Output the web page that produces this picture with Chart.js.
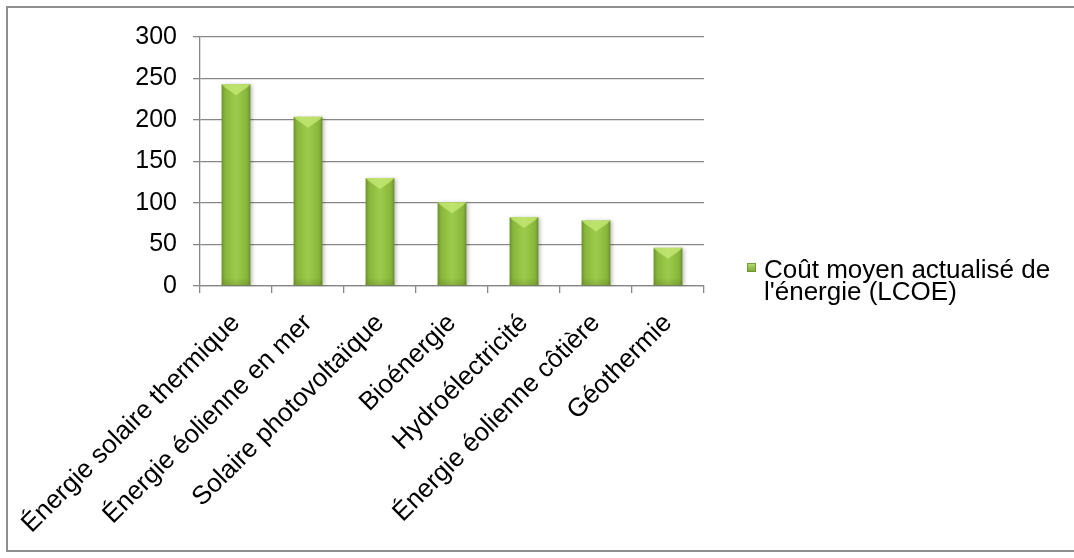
<!DOCTYPE html>
<html>
<head>
<meta charset="utf-8">
<script src="https://cdn.jsdelivr.net/npm/chart.js@4.4.1/dist/chart.umd.min.js"></script>
<style>
  html, body { margin: 0; padding: 0; background: #fff; }
  #wrap { position: relative; width: 1074px; height: 558px; overflow: hidden; }
  #frame { position: absolute; left: 6px; top: 6px; width: 1100px; height: 546px; border: 2px solid #8e8e8e; box-sizing: border-box; pointer-events: none; }
  canvas { position: absolute; left: 0; top: 0; }
</style>
</head>
<body>
<div id="wrap">
  <canvas id="c" width="1074" height="558"></canvas>
  <div id="frame"></div>
</div>
<script>
const categories = [
  "Énergie solaire thermique",
  "Énergie éolienne en mer",
  "Solaire photovoltaïque",
  "Bioénergie",
  "Hydroélectricité",
  "Énergie éolienne côtière",
  "Géothermie"
];
const lcoeValues = [243, 204, 130, 101, 83, 79, 46];
const seriesName = "Coût moyen actualisé de l'énergie (LCOE)";
const legendLines = ["Coût moyen actualisé de", "l'énergie (LCOE)"];
const yTicks = [0, 50, 100, 150, 200, 250, 300];

const FONT = "'Liberation Sans', Arial, sans-serif";
const GRID = '#878787';

const barStyle = {
  id: 'barStyle',
  beforeDatasetsDraw(chart) {
    const ctx = chart.ctx;
    const meta = chart.getDatasetMeta(0);
    meta.data.forEach(el => {
      const half = el.width / 2;
      const g = ctx.createLinearGradient(el.x - half, 0, el.x + half, 0);
      g.addColorStop(0, '#6a922c');
      g.addColorStop(0.12, '#88b63c');
      g.addColorStop(0.5, '#9dcc4c');
      g.addColorStop(0.88, '#88b63c');
      g.addColorStop(1, '#6a922c');
      el.options = Object.assign({}, el.options, { backgroundColor: g });
    });
    ctx.save();
    ctx.shadowColor = 'rgba(0,0,0,0.28)';
    ctx.shadowBlur = 4;
    ctx.shadowOffsetX = 2;
    ctx.shadowOffsetY = 1;
  },
  afterDatasetsDraw(chart) {
    const ctx = chart.ctx;
    ctx.restore();
    const meta = chart.getDatasetMeta(0);
    meta.data.forEach(el => {
      const half = el.width / 2;
      const l = el.x - half, r = el.x + half, t = el.y;
      ctx.save();
      ctx.beginPath();
      ctx.moveTo(l, t);
      ctx.lineTo(r, t);
      ctx.lineTo(r - 3, t + 3);
      ctx.lineTo(el.x, t + 11);
      ctx.lineTo(l + 3, t + 3);
      ctx.closePath();
      ctx.fillStyle = 'rgba(200,235,120,0.75)';
      ctx.fill();
      const gb = ctx.createLinearGradient(0, el.base - 8, 0, el.base);
      gb.addColorStop(0, 'rgba(70,100,20,0)');
      gb.addColorStop(1, 'rgba(70,100,20,0.25)');
      ctx.fillStyle = gb;
      ctx.fillRect(l, el.base - 8, el.width, 8);
      ctx.restore();
    });
  }
};

const customLegend = {
  id: 'customLegend',
  afterDraw(chart) {
    const ctx = chart.ctx;
    ctx.save();
    const sx = 747, sy = 263, s = 9;
    const g = ctx.createLinearGradient(sx, sy, sx, sy + s);
    g.addColorStop(0, '#b8e070');
    g.addColorStop(1, '#7aa536');
    ctx.fillStyle = g;
    ctx.fillRect(sx, sy, s, s);
    ctx.strokeStyle = '#6a922c';
    ctx.lineWidth = 0.8;
    ctx.strokeRect(sx + 0.4, sy + 0.4, s - 0.8, s - 0.8);
    ctx.fillStyle = '#000';
    ctx.font = '26px ' + FONT;
    ctx.textBaseline = 'alphabetic';
    ctx.textAlign = 'left';
    legendLines.forEach((line, i) => {
      ctx.fillText(line, 764, 278 + i * 22);
    });
    ctx.restore();
  }
};

new Chart(document.getElementById('c'), {
  type: 'bar',
  data: {
    labels: categories,
    datasets: [{
      label: seriesName,
      data: lcoeValues,
      backgroundColor: '#8fbe42',
      borderWidth: 0,
      barPercentage: 0.4,
      categoryPercentage: 1.0
    }]
  },
  options: {
    responsive: false,
    animation: false,
    events: [],
    layout: { padding: { left: 0, right: 370, top: 37, bottom: 0 } },
    plugins: {
      legend: { display: false },
      tooltip: { enabled: false },
      title: { display: false }
    },
    scales: {
      x: {
        grid: {
          offset: true,
          drawOnChartArea: false,
          drawTicks: true,
          tickLength: 7,
          color: GRID,
          lineWidth: 1.3
        },
        border: { display: true, color: GRID, width: 1.3 },
        ticks: {
          color: '#000',
          font: { family: FONT, size: 26 },
          maxRotation: 45,
          minRotation: 45,
          autoSkip: false,
          padding: 15
        },
        afterFit(scale) {
          scale.height = 272;
          scale.paddingLeft = 0;
          scale.paddingRight = 0;
        }
      },
      y: {
        min: 0,
        max: 300,
        afterBuildTicks(scale) {
          scale.ticks = yTicks.map(v => ({ value: v }));
        },
        grid: {
          drawTicks: true,
          tickLength: 7,
          color: GRID,
          lineWidth: 1.3
        },
        border: { display: true, color: GRID, width: 1.3 },
        ticks: {
          color: '#000',
          font: { family: FONT, size: 25 },
          padding: 16
        },
        afterFit(scale) {
          scale.width = 200;
        }
      }
    }
  },
  plugins: [barStyle, customLegend]
});
</script>
</body>
</html>
